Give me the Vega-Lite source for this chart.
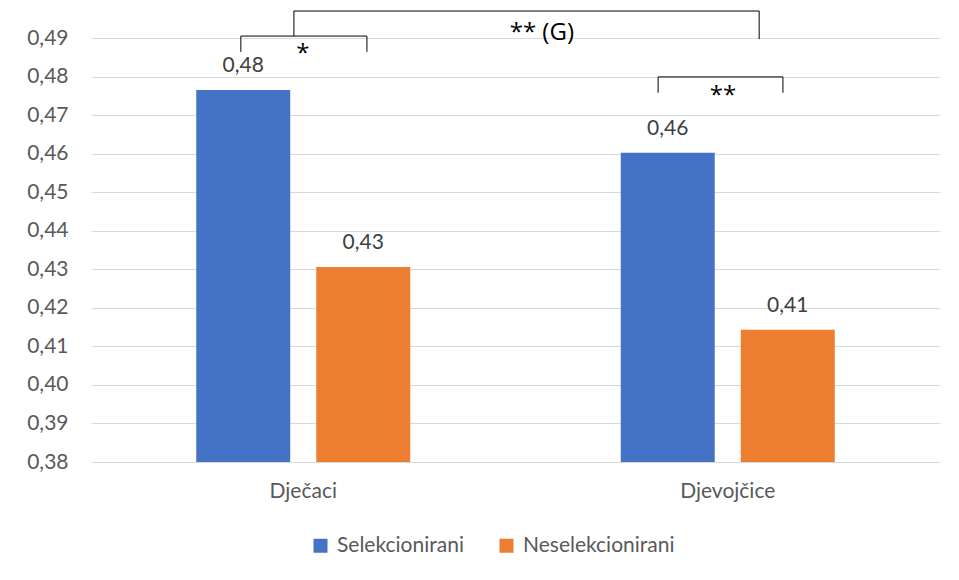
{
  "$schema": "https://vega.github.io/schema/vega-lite/v6.json",
  "width": 849,
  "height": 424,
  "autosize": {"type": "none"},
  "padding": {"left": 91, "top": 38, "right": 19, "bottom": 118},
  "background": "white",
  "config": {
    "locale": {"number": {"decimal": ",", "thousands": ".", "grouping": [3], "currency": ["", " €"]}},
    "view": {"stroke": null},
    "font": "Lato",
    "axis": {"labelFont": "Lato", "labelFontSize": 21, "labelColor": "#595959", "title": null, "labelOverlap": false}
  },
  "layer": [
    {
      "data": {"values": [
        {"grupa": "Dječaci", "serija": "Selekcionirani", "vrijednost": 0.4765},
        {"grupa": "Dječaci", "serija": "Neselekcionirani", "vrijednost": 0.4306},
        {"grupa": "Djevojčice", "serija": "Selekcionirani", "vrijednost": 0.4602},
        {"grupa": "Djevojčice", "serija": "Neselekcionirani", "vrijednost": 0.4143}
      ]},
      "encoding": {
        "x": {"field": "grupa", "type": "nominal", "sort": ["Dječaci", "Djevojčice"],
              "scale": {"paddingInner": 0, "paddingOuter": 0},
              "axis": {"domain": false, "ticks": false, "labelAngle": 0, "labelPadding": 18, "grid": false}},
        "xOffset": {"field": "serija", "type": "nominal", "sort": ["Selekcionirani", "Neselekcionirani"],
                    "scale": {"paddingInner": 0.217, "paddingOuter": 0.877}},
        "y": {"field": "vrijednost", "type": "quantitative",
              "scale": {"domain": [0.38, 0.49], "nice": false, "zero": false},
              "axis": {"values": [0.38, 0.39, 0.40, 0.41, 0.42, 0.43, 0.44, 0.45, 0.46, 0.47, 0.48, 0.49],
                       "format": ".2f", "domain": false, "ticks": false, "tickSize": 0, "labelPadding": 23,
                       "labelOverlap": false, "labelBound": false,
                       "grid": true, "gridColor": "#d9d9d9", "gridWidth": 1}}
      },
      "layer": [
        {
          "mark": {"type": "bar", "clip": true},
          "encoding": {
            "color": {"field": "serija", "type": "nominal", "sort": ["Selekcionirani", "Neselekcionirani"],
                      "scale": {"domain": ["Selekcionirani", "Neselekcionirani"], "range": ["#4472C4", "#ED7D31"]},
                      "legend": {"orient": "none", "legendX": 219, "legendY": 497, "direction": "horizontal",
                                 "title": null, "symbolType": "square", "symbolSize": 196, "symbolStrokeWidth": 0,
                                 "labelFont": "Lato", "labelFontSize": 21, "labelColor": "#595959",
                                 "columnPadding": 32, "labelOffset": 6, "padding": 0}}
          }
        },
        {
          "mark": {"type": "text", "baseline": "alphabetic", "dy": -18, "fontSize": 21, "color": "#404040", "font": "Lato"},
          "encoding": {
            "text": {"field": "vrijednost", "type": "quantitative", "format": ".2f"}
          }
        }
      ]
    },
    {
      "data": {"values": [
        {"x": 0.353, "x2": 0.353, "y": 0.4864, "y2": 0.4905},
        {"x": 0.353, "x2": 0.650, "y": 0.4905, "y2": 0.4905},
        {"x": 0.650, "x2": 0.650, "y": 0.4905, "y2": 0.4864},
        {"x": 0.478, "x2": 0.478, "y": 0.4905, "y2": 0.4970},
        {"x": 0.478, "x2": 1.574, "y": 0.4970, "y2": 0.4970},
        {"x": 1.574, "x2": 1.574, "y": 0.4970, "y2": 0.4897},
        {"x": 1.336, "x2": 1.336, "y": 0.4758, "y2": 0.4799},
        {"x": 1.336, "x2": 1.630, "y": 0.4799, "y2": 0.4799},
        {"x": 1.630, "x2": 1.630, "y": 0.4799, "y2": 0.4758}
      ]},
      "mark": {"type": "rule", "color": "#000000", "strokeWidth": 1},
      "encoding": {
        "x": {"field": "x", "type": "quantitative", "scale": {"domain": [0, 2], "nice": false, "zero": false}, "axis": null},
        "x2": {"field": "x2"},
        "y": {"field": "y", "type": "quantitative",
              "axis": {"values": [0.38, 0.39, 0.40, 0.41, 0.42, 0.43, 0.44, 0.45, 0.46, 0.47, 0.48, 0.49],
                       "format": ".2f", "domain": false, "ticks": false, "tickSize": 0, "labelPadding": 23,
                       "labelOverlap": false, "labelBound": false,
                       "grid": true, "gridColor": "#d9d9d9", "gridWidth": 1}},
        "y2": {"field": "y2"}
      }
    },
    {
      "data": {"values": [
        {"x": 0.499, "y": 0.4840, "oznaka": "*"},
        {"x": 1.062, "y": 0.4894, "oznaka": "** (G)"},
        {"x": 1.489, "y": 0.4731, "oznaka": "**"}
      ]},
      "mark": {"type": "text", "baseline": "alphabetic", "align": "center", "fontSize": 24, "color": "#000000", "font": "Open Sans"},
      "encoding": {
        "x": {"field": "x", "type": "quantitative", "scale": {"domain": [0, 2], "nice": false, "zero": false}, "axis": null},
        "y": {"field": "y", "type": "quantitative",
              "axis": {"values": [0.38, 0.39, 0.40, 0.41, 0.42, 0.43, 0.44, 0.45, 0.46, 0.47, 0.48, 0.49],
                       "format": ".2f", "domain": false, "ticks": false, "tickSize": 0, "labelPadding": 23,
                       "labelOverlap": false, "labelBound": false,
                       "grid": true, "gridColor": "#d9d9d9", "gridWidth": 1}},
        "text": {"field": "oznaka", "type": "nominal"}
      }
    }
  ],
  "resolve": {"scale": {"x": "independent"}}
}
